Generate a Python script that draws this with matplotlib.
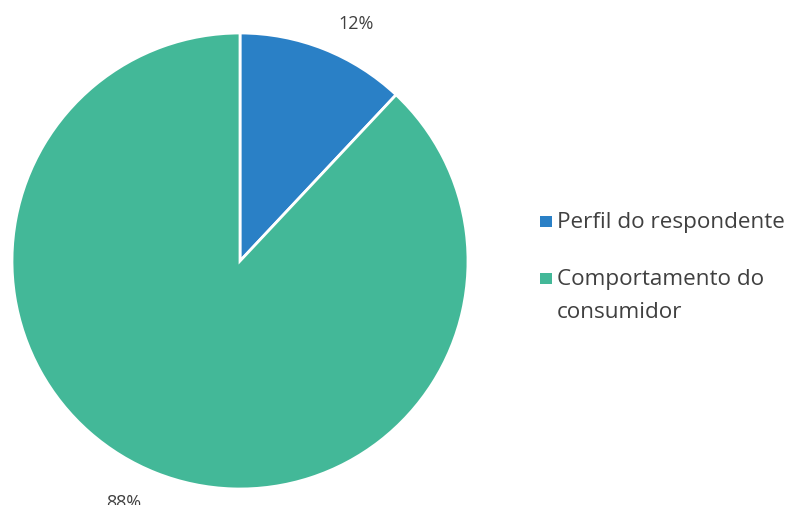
import matplotlib.pyplot as plt
from matplotlib.patches import Rectangle

plt.rcParams['font.family'] = ['Open Sans', 'DejaVu Sans']

categorias = ["Perfil do respondente", "Comportamento do\nconsumidor"]
valores = [12, 88]
cores = ["#2A80C6", "#43B898"]

W, H = 791, 506
fig = plt.figure(figsize=(W / 100, H / 100), dpi=100)
ax = fig.add_axes([12/W, 16/H, 456/W, 456/H])

wedges, _, pcts = ax.pie(valores, colors=cores, startangle=90, counterclock=False,
                         radius=1, autopct=lambda p: f"{p:.0f}%", pctdistance=1.16,
                         wedgeprops=dict(edgecolor="white", linewidth=2),
                         textprops=dict(color="#404040", fontsize=13))
# rótulos um pouco deslocados, como no gráfico original do Excel
pcts[0].set_position((0.51, 1.044))
pcts[1].set_position((-0.51, -1.055))

ax.set_xlim(-1, 1)
ax.set_ylim(-1, 1)
ax.set_aspect("equal")
ax.axis("off")

# legenda montada à mão: o quadrado fica alinhado com a primeira linha do texto
base = 228
for cat, cor in zip(categorias, cores):
    fig.patches.append(Rectangle((540/W, 1 - base/H), 12/W, 11.5/H,
                                 facecolor=cor, transform=fig.transFigure, figure=fig))
    for i, parte in enumerate(cat.split("\n")):
        fig.text(557/W, 1 - (base + 33 * i)/H, parte, fontsize=16.2, color="#404040",
                 va="baseline", ha="left")
    base += 57 + 33 * cat.count("\n")

fig.savefig("out.png", dpi=100)
